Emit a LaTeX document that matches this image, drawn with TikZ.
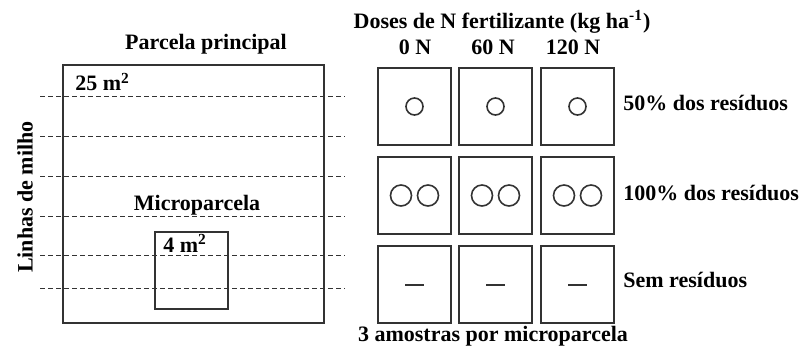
\documentclass[tikz,border=0pt]{standalone}
\usepackage{fontspec}
\setmainfont{Liberation Serif}

\begin{document}
\begin{tikzpicture}[x=0.5pt, y=-0.5pt, font=\fontsize{11}{13}\selectfont\bfseries]

  % fixed frame: 807 x 350 units, y grows downwards
  \useasboundingbox (0,0) rectangle (807,350);

  % microparcel boxes: width, height, left edges, top edges
  \pgfmathsetmacro{\w}{73}
  \pgfmathsetmacro{\h}{77}
  \pgfmathsetmacro{\xa}{378}
  \pgfmathsetmacro{\xb}{459}
  \pgfmathsetmacro{\xc}{541}
  \pgfmathsetmacro{\ya}{68}
  \pgfmathsetmacro{\yb}{157}
  \pgfmathsetmacro{\yc}{246}

  % ---- parcela principal ----

  % rows of maize (dashed)
  \draw[black!80, line width=0.5pt, dash pattern=on 2.5pt off 1.5pt] (40,96) -- (345,96);
  \draw[black!80, line width=0.5pt, dash pattern=on 2.5pt off 1.5pt] (40,136) -- (345,136);
  \draw[black!80, line width=0.5pt, dash pattern=on 2.5pt off 1.5pt] (40,176) -- (345,176);
  \draw[black!80, line width=0.5pt, dash pattern=on 2.5pt off 1.5pt] (40,216) -- (345,216);
  \draw[black!80, line width=0.5pt, dash pattern=on 2.5pt off 1.5pt] (40,255) -- (345,255);
  \draw[black!80, line width=0.5pt, dash pattern=on 2.5pt off 1.5pt] (40,288) -- (345,288);

  % main plot and microplot
  \draw[black!80, line width=1pt] (63,65) rectangle (324,323);
  \draw[black!80, line width=1pt] (155,232) rectangle (228,309);

  \node[inner sep=0] (parcela) at (206,44) {Parcela principal};
  \node[inner sep=0, anchor=west] (area25) at (75,82) {25 m\textsuperscript{2}};
  \node[inner sep=0] (micro) at (197,205) {Microparcela};
  \node[inner sep=0, anchor=west] (area4) at (163,243) {4 m\textsuperscript{2}};
  \node[inner sep=0, rotate=90] (linhas) at (25,197) {Linhas de milho};

  % ---- microparcelas ----

  % linha 1: 50% dos residuos (um anel)
  \draw[black!80, line width=1pt] (\xa,\ya) rectangle (\xa+\w,\ya+\h);
  \draw[black!80, line width=1pt] (\xb,\ya) rectangle (\xb+\w,\ya+\h);
  \draw[black!80, line width=1pt] (\xc,\ya) rectangle (\xc+\w,\ya+\h);
  \draw[black!80, line width=0.8pt] (\xa+\w/2,\ya+\h/2) circle (8.5);
  \draw[black!80, line width=0.8pt] (\xb+\w/2,\ya+\h/2) circle (8.5);
  \draw[black!80, line width=0.8pt] (\xc+\w/2,\ya+\h/2) circle (8.5);

  % linha 2: 100% dos residuos (dois aneis)
  \draw[black!80, line width=1pt] (\xa,\yb) rectangle (\xa+\w,\yb+\h);
  \draw[black!80, line width=1pt] (\xb,\yb) rectangle (\xb+\w,\yb+\h);
  \draw[black!80, line width=1pt] (\xc,\yb) rectangle (\xc+\w,\yb+\h);
  \draw[black!80, line width=0.8pt] (\xa+\w/2-13.5,\yb+\h/2) circle (10.5);
  \draw[black!80, line width=0.8pt] (\xa+\w/2+13.5,\yb+\h/2) circle (10.5);
  \draw[black!80, line width=0.8pt] (\xb+\w/2-13.5,\yb+\h/2) circle (10.5);
  \draw[black!80, line width=0.8pt] (\xb+\w/2+13.5,\yb+\h/2) circle (10.5);
  \draw[black!80, line width=0.8pt] (\xc+\w/2-13.5,\yb+\h/2) circle (10.5);
  \draw[black!80, line width=0.8pt] (\xc+\w/2+13.5,\yb+\h/2) circle (10.5);

  % linha 3: sem residuos (traco)
  \draw[black!80, line width=1pt] (\xa,\yc) rectangle (\xa+\w,\yc+\h);
  \draw[black!80, line width=1pt] (\xb,\yc) rectangle (\xb+\w,\yc+\h);
  \draw[black!80, line width=1pt] (\xc,\yc) rectangle (\xc+\w,\yc+\h);
  \draw[black!80, line width=1pt] (\xa+\w/2-9.5,\yc+\h/2) -- (\xa+\w/2+9.5,\yc+\h/2);
  \draw[black!80, line width=1pt] (\xb+\w/2-9.5,\yc+\h/2) -- (\xb+\w/2+9.5,\yc+\h/2);
  \draw[black!80, line width=1pt] (\xc+\w/2-9.5,\yc+\h/2) -- (\xc+\w/2+9.5,\yc+\h/2);

  % ---- rotulos ----
  \node[inner sep=0] (doses) at (502,22) {Doses de N fertilizante (kg ha\textsuperscript{-1})};
  \node[inner sep=0] (n0) at (415,47) {0 N};
  \node[inner sep=0] (n60) at (493,47) {60 N};
  \node[inner sep=0] (n120) at (573,47) {120 N};

  \node[inner sep=0, anchor=west] (res50) at (623,103) {50\% dos resíduos};
  \node[inner sep=0, anchor=west] (res100) at (623,193) {100\% dos resíduos};
  \node[inner sep=0, anchor=west] (res0) at (623,280) {Sem resíduos};

  \node[inner sep=0] (amostras) at (493,336) {3 amostras por microparcela};

\end{tikzpicture}
\end{document}
